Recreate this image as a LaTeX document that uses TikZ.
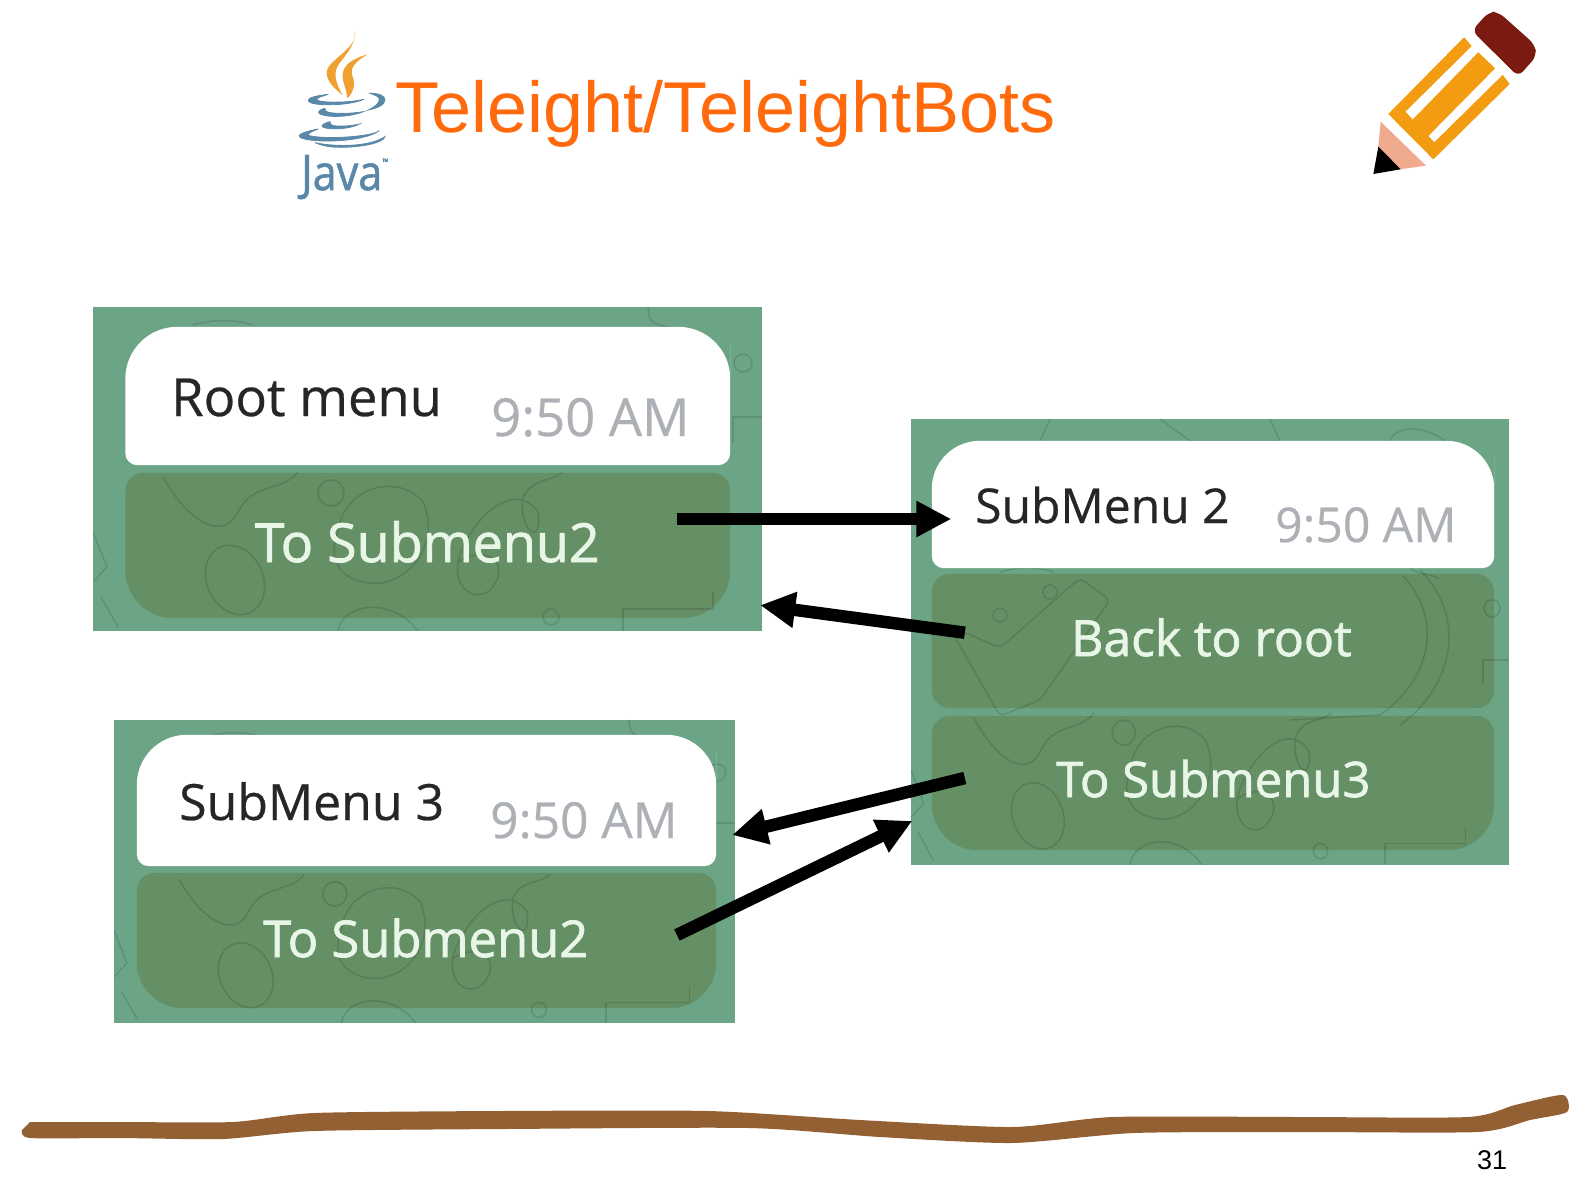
\documentclass[tikz,border=0pt]{standalone}
\usepackage{fontspec}
\setmainfont{Liberation Sans}
\newfontfamily\menufont[RawFeature={embolden=0.5}]{Open Sans}
\newfontfamily\btnfont[RawFeature={embolden=1.5}]{Open Sans}
\newfontfamily\javafont[RawFeature={embolden=1.2;extend=0.88}]{Open Sans}
\usetikzlibrary{arrows.meta}
\definecolor{panelgreen}{HTML}{6BA586}
\definecolor{btngreen}{HTML}{658F64}
\definecolor{btntext}{HTML}{E8F6E8}
\definecolor{timegray}{HTML}{ADB1B6}
\definecolor{titleorange}{HTML}{FF6A0D}
\definecolor{javablue}{HTML}{5A88A8}
\definecolor{javaorange}{HTML}{F0A030}
\definecolor{pencilred}{HTML}{7A1A10}
\definecolor{pencilbody}{HTML}{F39C12}
\definecolor{penciltip}{HTML}{F0AB8E}
\definecolor{rulebrown}{HTML}{936033}

% name, centre, width, height, top radius, bottom radius, colour
\newcommand{\menushape}[7]{
  \node[minimum width=#3pt, minimum height=#4pt, inner sep=0pt] (#1) at (#2) {};
  \fill[#7] (#1.west) [rounded corners=#5pt] |- (#1.north) -| (#1.east)
    [rounded corners=#6pt] |- (#1.south) -| (#1.west) -- cycle;
}
% the wallpaper, in the coordinates of the root panel
\newcommand{\wallpaper}{
  \draw[doodle] (650,56) circle (9);
  \draw[doodle, rotate around={25:(142,273)}] (142,273) ellipse (28 and 36);
  \draw[doodle] (238,186) circle (13);
  \draw[doodle] (70,170) .. controls (95,215) and (130,235) .. (145,205) .. controls (160,175) and (190,185) .. (205,165);
  \draw[doodle] (245,225) .. controls (250,180) and (305,165) .. (330,195) .. controls (350,240) and (310,285) .. (270,275) .. controls (245,270) and (235,250) .. (245,225);
  \draw[doodle] (365,255) .. controls (375,215) and (420,170) .. (445,205) .. controls (450,240) and (425,225) .. (430,190) .. controls (440,170) and (460,175) .. (470,165);
  \draw[doodle] (365,255) .. controls (360,290) and (395,300) .. (405,270) .. controls (410,250) and (390,240) .. (365,255);
  \draw[doodle] (245,324) .. controls (250,295) and (300,290) .. (325,324);
  \draw[doodle] (458,310) circle (8);
  \draw[doodle] (530,324) -- (530,302) -- (620,302) -- (620,285);
  \draw[doodle] (0,225) -- (14,260) -- (0,275);
  \draw[doodle] (8,290) -- (25,320);
  \draw[doodle] (555,0) .. controls (555,25) and (575,15) .. (590,25);
  \draw[doodle] (100,18) .. controls (120,12) and (140,12) .. (160,18);
  \draw[doodle] (640,135) -- (640,110) -- (669,110);
}

\begin{document}
\begin{tikzpicture}[
  x=1pt, y=-1pt,
  panel/.style 2 args={rectangle, fill=panelgreen, minimum width=#1pt, minimum height=#2pt, inner sep=0pt},
  menutext/.style={anchor=base west, inner sep=0pt, text=black!85, font=\menufont\fontsize{#1}{#1}\selectfont},
  timetext/.style={anchor=base west, inner sep=0pt, text=timegray, font=\menufont\fontsize{#1}{#1}\selectfont},
  btnlabel/.style={anchor=base west, inner sep=0pt, text=btntext, font=\btnfont\fontsize{#1}{#1}\selectfont},
  link/.style={-{Triangle[length=35pt, width=34pt]}, line width=12.5pt, black},
  doodle/.style={line width=1.5pt, draw=black, draw opacity=0.12},
  javapart/.style={fill=javablue, draw=javablue, line width=0.8pt},
  steam/.style={fill=javaorange},
]
\useasboundingbox (0,0) rectangle (1587,1191);

% java logo
\begin{scope}[shift={(270pt,-10pt)}, x=0.3333pt, y=-0.3333pt]
  \fill[steam] (255,65) .. controls (262,120) and (168,150) .. (170,190) .. controls (172,220) and (200,240) .. (218,256) .. controls (195,215) and (190,190) .. (205,165) .. controls (225,135) and (255,110) .. (255,65) -- cycle;
  \fill[steam] (293,133) .. controls (250,145) and (215,165) .. (218,200) .. controls (220,225) and (232,245) .. (232,265) .. controls (248,250) and (258,225) .. (248,200) .. controls (238,175) and (255,155) .. (293,133) -- cycle;
  \filldraw[javapart] (175,253) .. controls (130,258) and (112,265) .. (115,273) .. controls (120,288) and (230,290) .. (282,268) .. controls (230,280) and (150,278) .. (140,270) .. controls (140,262) and (160,258) .. (175,253) -- cycle;
  \filldraw[javapart] (300,250) .. controls (330,250) and (345,258) .. (345,270) .. controls (345,285) and (320,295) .. (295,300) .. controls (315,290) and (328,280) .. (328,268) .. controls (328,260) and (315,255) .. (300,250) -- cycle;
  \filldraw[javapart] (165,295) .. controls (145,300) and (142,308) .. (150,312) .. controls (170,323) and (240,322) .. (280,305) .. controls (240,312) and (185,312) .. (170,305) .. controls (165,302) and (165,298) .. (165,295) -- cycle;
  \filldraw[javapart] (180,335) .. controls (160,340) and (150,348) .. (160,352) .. controls (180,360) and (240,358) .. (268,342) .. controls (235,350) and (195,350) .. (185,345) .. controls (180,342) and (180,338) .. (180,335) -- cycle;
  \filldraw[javapart] (145,357) .. controls (100,365) and (80,375) .. (90,382) .. controls (120,400) and (280,398) .. (328,362) .. controls (310,380) and (160,390) .. (115,376) .. controls (112,370) and (130,362) .. (145,357) -- cycle;
  \filldraw[javapart] (135,398) .. controls (200,412) and (300,410) .. (345,380) .. controls (340,400) and (270,412) .. (210,412) .. controls (175,412) and (150,405) .. (135,398) -- cycle;
\end{scope}
\node[anchor=base west, inner sep=0pt, text=javablue, font=\javafont\fontsize{49}{49}\selectfont] (java) at (301,190) {Java{\fontsize{9}{9}\selectfont\raisebox{25pt}{™}}};

\node[anchor=base west, inner sep=0pt, text=titleorange, font=\fontsize{72}{72}\selectfont] (title) at (395,132) {Teleight/TeleightBots};

% pencil
\begin{scope}[shift={(1350pt,0pt)}, x=0.3333pt, y=-0.3333pt]
  \fill[pencilred, rounded corners=7pt] (366,92) -- (416,36) -- (445,36) -- (554,133) -- (560,168) -- (505,230) -- cycle;
  \filldraw[pencilbody, draw=pencilbody, line width=1.5pt] (118,342) -- (342,115) -- (362,138) -- (163,335) -- (188,362) -- (385,160) -- (432,205) -- (232,408) -- (253,430) -- (458,228) -- (476,252) -- (250,475) -- cycle;
  \fill[penciltip] (92,365) -- (228,497) -- (150,508) -- (85,440) -- cycle;
  \fill[black] (85,440) -- (152,508) -- (70,522) -- cycle;
\end{scope}

% root panel
\node[panel={669}{324}] (rootpanel) at (427.5,469) {};
\menushape{rootbtn}{427.75,545.5}{604.5}{145}{18}{48}{btngreen}
\begin{scope}
  \clip (rootpanel.south west) rectangle (rootpanel.north east);
  \begin{scope}[shift={(93pt,-307pt)}]
    \wallpaper
  \end{scope}
\end{scope}
\menushape{roottitle}{427.75,396}{604.5}{138}{52}{12}{white}
\node[menutext=52.5] (rootlabel) at (171,416) {Root menu};
\node[timetext=52.5] (roottime) at (491,436) {9:50 AM};
\node[btnlabel=53.8] (rootbtnlabel) at (254.5,562) {To Submenu2};

% submenu 2 panel
\node[panel={598}{446}] (twopanel) at (1210,642) {};
\menushape{backbtn}{1213,641}{562}{134}{18}{18}{btngreen}
\menushape{threebtn}{1213,783}{562}{134}{18}{46}{btngreen}
\begin{scope}
  \clip (twopanel.south west) rectangle (twopanel.north east);
  \begin{scope}[shift={(911pt,-555pt)}, xscale=0.894, yscale=0.955]
    \wallpaper
  \end{scope}
  \draw[doodle, rounded corners=6pt] (948,625) -- (1000,648) -- (1080,578) -- (1110,600) -- (1040,700) -- (1000,716) -- cycle;
  \draw[doodle] (1000,615) circle (7) (1050,592) circle (7);
  \draw[doodle] (1402,575) .. controls (1445,620) and (1430,680) .. (1380,715) -- (1290,720);
  \draw[doodle] (1420,570) .. controls (1470,620) and (1450,690) .. (1400,725);
  \draw[doodle] (1050,419) -- (1040,441) (1160,419) -- (1190,441) -- (1280,441) -- (1270,419);
  \draw[doodle] (1390,441) .. controls (1395,425) and (1425,425) .. (1445,441);
\end{scope}
\menushape{twotitle}{1213,504.5}{562}{127}{48}{12}{white}
\node[menutext=48] (twolabel) at (975,523) {SubMenu 2};
\node[timetext=48] (twotime) at (1275,542) {9:50 AM};
\node[btnlabel=49.8] (backlabel) at (1071,656) {Back to root};
\node[btnlabel=49] (threelabel) at (1056,797) {To Submenu3};

% submenu 3 panel
\node[panel={621}{303}] (threepanel) at (424.5,871.5) {};
\menushape{threebackbtn}{426.5,940.5}{579}{135}{18}{46}{btngreen}
\begin{scope}
  \clip (threepanel.south west) rectangle (threepanel.north east);
  \begin{scope}[shift={(114pt,-720pt)}, xscale=0.928, yscale=0.935]
    \wallpaper
  \end{scope}
\end{scope}
\menushape{threetitle}{426.5,800.5}{579}{131}{50}{12}{white}
\node[menutext=50] (threelabeltop) at (179,820) {SubMenu 3};
\node[timetext=49.6] (threetime) at (490,838) {9:50 AM};
\node[btnlabel=50.7] (threebacklabel) at (263,957) {To Submenu2};

% links between the menus
\draw[link] ([xshift=-53pt, yshift=26.5pt]rootbtn.east) -- ([xshift=19.5pt, yshift=-14.5pt]twotitle.west);
\draw[link] ([xshift=33pt, yshift=8.3pt]backbtn.west) -- ([xshift=-2pt, yshift=26pt]rootpanel.south east);
\draw[link] ([xshift=33pt, yshift=5pt]threebtn.west) -- ([xshift=-3pt, yshift=36.5pt]threepanel.east);
\draw[link] ([xshift=-39.3pt, yshift=5.5pt]threebackbtn.east) -- ([xshift=1.5pt, yshift=44.3pt]twopanel.south west);

% hand drawn rule
\fill[rulebrown] plot[smooth, tension=0.4] coordinates {(30,1122) (120,1122) (233,1122) (314,1113) (500,1111) (708,1111) (860,1120) (1012,1127) (1113,1117) (1300,1117) (1468,1117) (1515,1105) (1563,1095) (1567,1112) (1530,1120) (1478,1132) (1300,1132) (1134,1133) (1012,1143) (880,1137) (749,1128) (506,1129) (314,1131) (223,1139) (120,1138) (30,1138) (22,1130)} -- cycle;

\node[anchor=base west, inner sep=0pt, font=\fontsize{27}{27}\selectfont] (pagenum) at (1477,1169) {31};
\end{tikzpicture}
\end{document}
